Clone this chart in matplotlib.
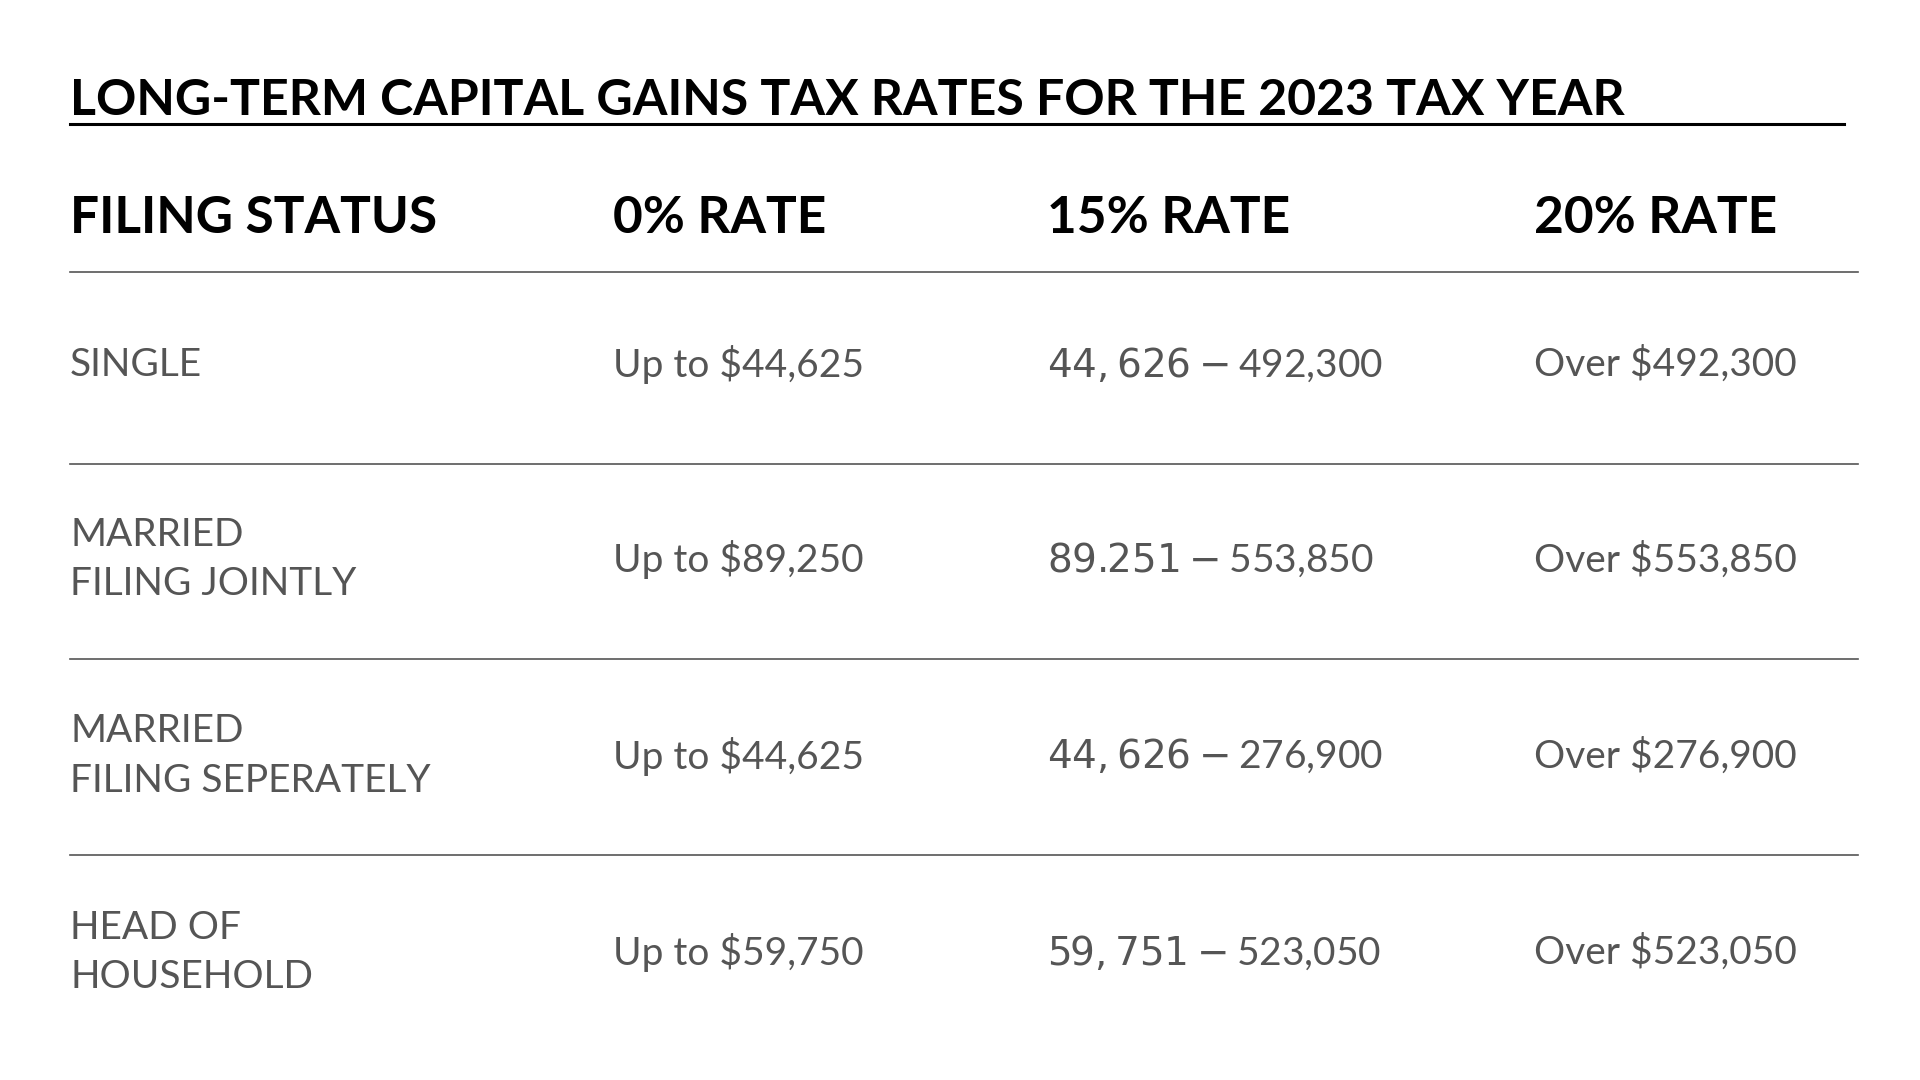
import matplotlib
matplotlib.use("Agg")
import matplotlib.pyplot as plt
from matplotlib.lines import Line2D

title = "LONG-TERM CAPITAL GAINS TAX RATES FOR THE 2023 TAX YEAR"
headers = ["FILING STATUS", "0% RATE", "15% RATE", "20% RATE"]
statuses = ["SINGLE", "MARRIED\nFILING JOINTLY", "MARRIED\nFILING SEPERATELY", "HEAD OF\nHOUSEHOLD"]
rate0 = ["Up to $44,625", "Up to $89,250", "Up to $44,625", "Up to $59,750"]
rate15 = ["$44,626 - $492,300", "$89.251 - $553,850", "$44,626 - $276,900", "$59,751 - $523,050"]
rate20 = ["Over $492,300", "Over $553,850", "Over $276,900", "Over $523,050"]

W, H = 1560, 880
fig = plt.figure(figsize=(19.2, 10.8), dpi=100)
ax = fig.add_axes([0, 0, 1, 1])
ax.set_xlim(0, W); ax.set_ylim(H, 0); ax.axis("off")

font = "Lato"
t = ax.text(57, 82, title, fontsize=36, fontweight="bold", family=font, color="black", va="center", ha="left")
ax.plot([57, 1498], [101, 101], color="black", lw=2.2)

colx = [57, 498, 851, 1246]
for x, h in zip(colx, headers):
    ax.text(x, 178, h, fontsize=37, fontweight="bold", family=font, color="black", va="center", ha="left")
ax.plot([57, 1510], [222, 222], color="#555555", lw=1.2)

rowy = [297, 456, 616, 776]
for i, y in enumerate(rowy):
    cells = [statuses[i], rate0[i], rate15[i], rate20[i]]
    for x, c in zip(colx, cells):
        ax.text(x, y, c, fontsize=28, family=font, color="#555555", va="center", ha="left", linespacing=1.45)
    if i < len(rowy) - 1:
        ax.plot([57, 1510], [y + 81, y + 81], color="#555555", lw=1.2)

fig.savefig("out.png", dpi=100, facecolor="white")
